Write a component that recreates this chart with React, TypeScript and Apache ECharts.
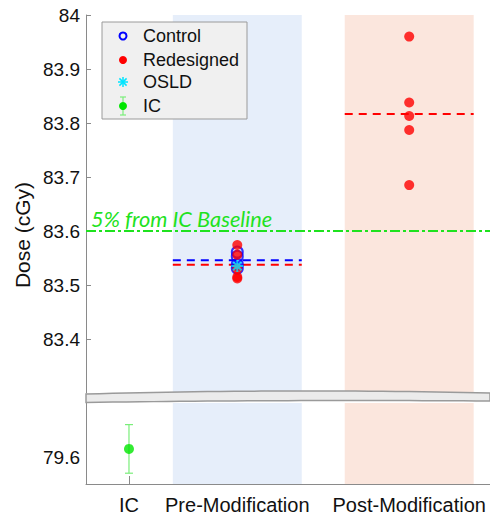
import React, { useEffect, useRef } from 'react';
import * as echarts from 'echarts';

// ---- data ----
const categories = ['IC', 'Pre-Modification', 'Post-Modification'];
const categoryX = [0.25, 0.88, 1.88];
const controlPre = [83.561, 83.553, 83.538, 83.531];
const redesignedPre = [83.574, 83.556, 83.53, 83.515, 83.512];
const redesignedPost = [83.96, 83.838, 83.813, 83.787, 83.685];
const osldPre = [83.535];
const icValue = 79.615;
const icError = 0.045;
const baselineFactor = 1.05;
const baselineLabel = '5% from IC Baseline';

const mean = (a: number[]) => a.reduce((s, v) => s + v, 0) / a.length;

const FONT = '"Liberation Sans", Arial, sans-serif';
const AXIS = '#8a8a8a';
const GREEN = '#1fe21f';
const HALF = 0.375;
const XMAX = 2.35;

const starPath =
  'path://M-1,-6L1,-6L1,6L-1,6Z M-6,-1L6,-1L6,1L-6,1Z M-3.5,-4.9L4.9,3.5L3.5,4.9L-4.9,-3.5Z M3.5,-4.9L4.9,-3.5L-3.5,4.9L-4.9,3.5Z';

function bandPoints(): number[][] {
  const pts: number[][] = [];
  const x0 = 86, x1 = 490;
  const N = 30;
  for (let i = 0; i <= N; i++) {
    const t = i / N;
    const x = x0 + (x1 - x0) * t;
    const y = (1 - t) * (1 - t) * 394 + 2 * (1 - t) * t * 388.5 + t * t * 393;
    pts.push([x, y]);
  }
  for (let i = N; i >= 0; i--) {
    const t = i / N;
    const x = x0 + (x1 - x0) * t;
    const y = (1 - t) * (1 - t) * 402.5 + 2 * (1 - t) * t * 399.5 + t * t * 401;
    pts.push([x, y]);
  }
  return pts;
}

export default function App() {
  const ref = useRef<HTMLDivElement>(null);
  useEffect(() => {
    if (!ref.current) return;
    const chart = echarts.init(ref.current, undefined, { renderer: 'svg' });
    const preX = categoryX[1];
    const postX = categoryX[2];
    const icX = categoryX[0];
    const baseline = icValue * baselineFactor;
    const shade = [
      [{ xAxis: preX - HALF, itemStyle: { color: '#e6eefa' } }, { xAxis: preX + HALF }],
      [{ xAxis: postX - HALF, itemStyle: { color: '#fbe6dd' } }, { xAxis: postX + HALF }],
    ];
    const meanLine = (x: number, v: number, color: string) => ({
      type: 'line',
      xAxisIndex: 0,
      yAxisIndex: 0,
      data: [[x - HALF, v], [x + HALF, v]],
      symbol: 'none',
      lineStyle: { color, width: 2, type: [8, 6] },
      z: 4,
      silent: true,
    });
    const legendX = 123;
    const textX = 143;
    const LZ = 100;
    const legendText = (t: string, y: number) => ({
      type: 'text',
      x: textX,
      y,
      z: LZ + 2,
      style: { text: t, fontSize: 18, fontFamily: FONT, fill: '#111', verticalAlign: 'middle' },
    });
    const lline = (x1: number, y1: number, x2: number, y2: number, stroke: string, w: number) => ({
      type: 'line',
      z: LZ + 1,
      shape: { x1, y1, x2, y2 },
      style: { stroke, lineWidth: w },
    });
    chart.setOption({
      animation: false,
      grid: [
        { left: 86, top: 15, right: 0, height: 378 },
        { left: 86, top: 403, right: 0, height: 81 },
      ],
      xAxis: [
        { gridIndex: 0, type: 'value', min: 0, max: XMAX, show: false },
        {
          gridIndex: 1,
          type: 'value',
          min: 0,
          max: XMAX,
          axisLine: { show: true, lineStyle: { color: AXIS } },
          axisTick: { show: true, inside: true, length: 8, customValues: categoryX, lineStyle: { color: AXIS } },
          axisLabel: {
            customValues: categoryX,
            formatter: (v: number) => {
              let best = 0;
              categoryX.forEach((c, i) => {
                if (Math.abs(c - v) < Math.abs(categoryX[best] - v)) best = i;
              });
              return categories[best];
            },
            fontSize: 20,
            color: '#111',
            fontFamily: FONT,
            margin: 11,
          },
          splitLine: { show: false },
        },
      ],
      yAxis: [
        {
          gridIndex: 0,
          type: 'value',
          min: 83.3,
          max: 84,
          interval: 0.1,
          axisLine: { show: true, lineStyle: { color: AXIS } },
          axisTick: { show: true, inside: true, length: 5, lineStyle: { color: AXIS } },
          axisLabel: {
            showMinLabel: false,
            formatter: (v: number) => (Math.abs(v - 84) < 1e-6 ? '84' : v.toFixed(1)),
            fontSize: 19,
            color: '#111',
            fontFamily: FONT,
            margin: 6,
          },
          splitLine: { show: false },
        },
        {
          gridIndex: 1,
          type: 'value',
          min: 79.55,
          max: 79.7,
          axisLine: { show: true, lineStyle: { color: AXIS } },
          axisTick: { show: false },
          axisLabel: {
            customValues: [79.6],
            formatter: (v: number) => v.toFixed(1),
            fontSize: 19,
            color: '#111',
            fontFamily: FONT,
            margin: 6,
          },
          splitLine: { show: false },
        },
      ],
      series: [
        {
          type: 'line',
          xAxisIndex: 0,
          yAxisIndex: 0,
          data: [],
          silent: true,
          markArea: { silent: true, data: shade },
          markLine: {
            silent: true,
            symbol: ['none', 'none'],
            data: [{ yAxis: baseline }],
            lineStyle: { color: GREEN, width: 2, type: [10, 3, 3, 3] },
            label: {
              position: 'insideStartTop',
              formatter: baselineLabel,
              fontStyle: 'italic',
              fontFamily: 'Lato, "Open Sans", sans-serif',
              fontSize: 21.8,
              color: GREEN,
              distance: [5, 2],
            },
            z: 3,
          },
        },
        {
          type: 'line',
          xAxisIndex: 1,
          yAxisIndex: 1,
          data: [],
          silent: true,
          markArea: { silent: true, data: shade },
        },
        {
          name: 'Control',
          type: 'scatter',
          xAxisIndex: 0,
          yAxisIndex: 0,
          data: controlPre.map((v) => [preX, v]),
          symbol: 'circle',
          symbolSize: 11,
          itemStyle: { color: 'rgba(0,0,0,0)', borderColor: '#0000ff', borderWidth: 2 },
          z: 5,
        },
        {
          name: 'Redesigned',
          type: 'scatter',
          xAxisIndex: 0,
          yAxisIndex: 0,
          data: [...redesignedPre.map((v) => [preX, v]), ...redesignedPost.map((v) => [postX, v])],
          symbol: 'circle',
          symbolSize: 10,
          itemStyle: { color: '#ff0000' },
          z: 6,
        },
        meanLine(preX, mean(controlPre), '#0000ff'),
        meanLine(preX, mean(redesignedPre), '#ff0000'),
        meanLine(postX, mean(redesignedPost), '#ff0000'),
        {
          name: 'OSLD',
          type: 'scatter',
          xAxisIndex: 0,
          yAxisIndex: 0,
          data: osldPre.map((v) => [preX, v]),
          symbol: starPath,
          symbolSize: 12,
          itemStyle: { color: '#00e5ff' },
          z: 7,
        },
        {
          name: 'IC err',
          type: 'custom',
          xAxisIndex: 1,
          yAxisIndex: 1,
          data: [[icX, icValue, icError]],
          encode: { x: 0, y: 1 },
          renderItem: (params: any, api: any) => {
            const x = api.value(0);
            const y = api.value(1);
            const e = api.value(2);
            const top = api.coord([x, y + e]);
            const bot = api.coord([x, y - e]);
            const cap = 4;
            const st = { stroke: '#7aee7a', lineWidth: 1.2 };
            return {
              type: 'group',
              children: [
                { type: 'line', shape: { x1: top[0], y1: top[1], x2: bot[0], y2: bot[1] }, style: st },
                { type: 'line', shape: { x1: top[0] - cap, y1: top[1], x2: top[0] + cap, y2: top[1] }, style: st },
                { type: 'line', shape: { x1: bot[0] - cap, y1: bot[1], x2: bot[0] + cap, y2: bot[1] }, style: st },
              ],
            };
          },
          z: 4,
        },
        {
          name: 'IC',
          type: 'scatter',
          xAxisIndex: 1,
          yAxisIndex: 1,
          data: [[icX, icValue]],
          symbol: 'circle',
          symbolSize: 10,
          itemStyle: { color: '#00e600' },
          z: 6,
        },
      ],
      graphic: [
        {
          type: 'polygon',
          shape: { points: bandPoints() },
          style: { fill: '#ebebeb', stroke: '#9a9a9a', lineWidth: 1.5 },
          z: 50,
          silent: true,
        },
        {
          type: 'text',
          x: 22,
          y: 235,
          rotation: Math.PI / 2,
          style: {
            text: 'Dose (cGy)',
            fontSize: 21,
            fontFamily: FONT,
            fill: '#111',
            align: 'center',
            verticalAlign: 'middle',
          },
          z: 50,
        },
        {
          type: 'rect',
          z: LZ,
          shape: { x: 102, y: 22, width: 145, height: 97 },
          style: { fill: '#f0f0f0', stroke: '#9a9a9a', lineWidth: 1 },
        },
        {
          type: 'circle',
          z: LZ + 1,
          shape: { cx: legendX, cy: 36, r: 3.5 },
          style: { fill: 'none', stroke: '#0000ff', lineWidth: 2 },
        },
        legendText('Control', 36),
        { type: 'circle', z: LZ + 1, shape: { cx: legendX, cy: 60, r: 4 }, style: { fill: '#ff0000' } },
        legendText('Redesigned', 60),
        lline(legendX, 77, legendX, 87, '#00e5ff', 1.5),
        lline(legendX - 5, 82, legendX + 5, 82, '#00e5ff', 1.5),
        lline(legendX - 3.6, 78.4, legendX + 3.6, 85.6, '#00e5ff', 1.5),
        lline(legendX - 3.6, 85.6, legendX + 3.6, 78.4, '#00e5ff', 1.5),
        legendText('OSLD', 82),
        lline(legendX, 97, legendX, 115, '#7aee7a', 1.2),
        lline(legendX - 3, 97, legendX + 3, 97, '#7aee7a', 1.2),
        lline(legendX - 3, 115, legendX + 3, 115, '#7aee7a', 1.2),
        { type: 'circle', z: LZ + 2, shape: { cx: legendX, cy: 106, r: 4 }, style: { fill: '#00e600' } },
        legendText('IC', 106),
      ],
    });
    return () => chart.dispose();
  }, []);
  return (
    <div
      ref={ref}
      style={{ position: 'fixed', left: 0, top: 0, width: 490, height: 516, background: '#fff' }}
    />
  );
}
